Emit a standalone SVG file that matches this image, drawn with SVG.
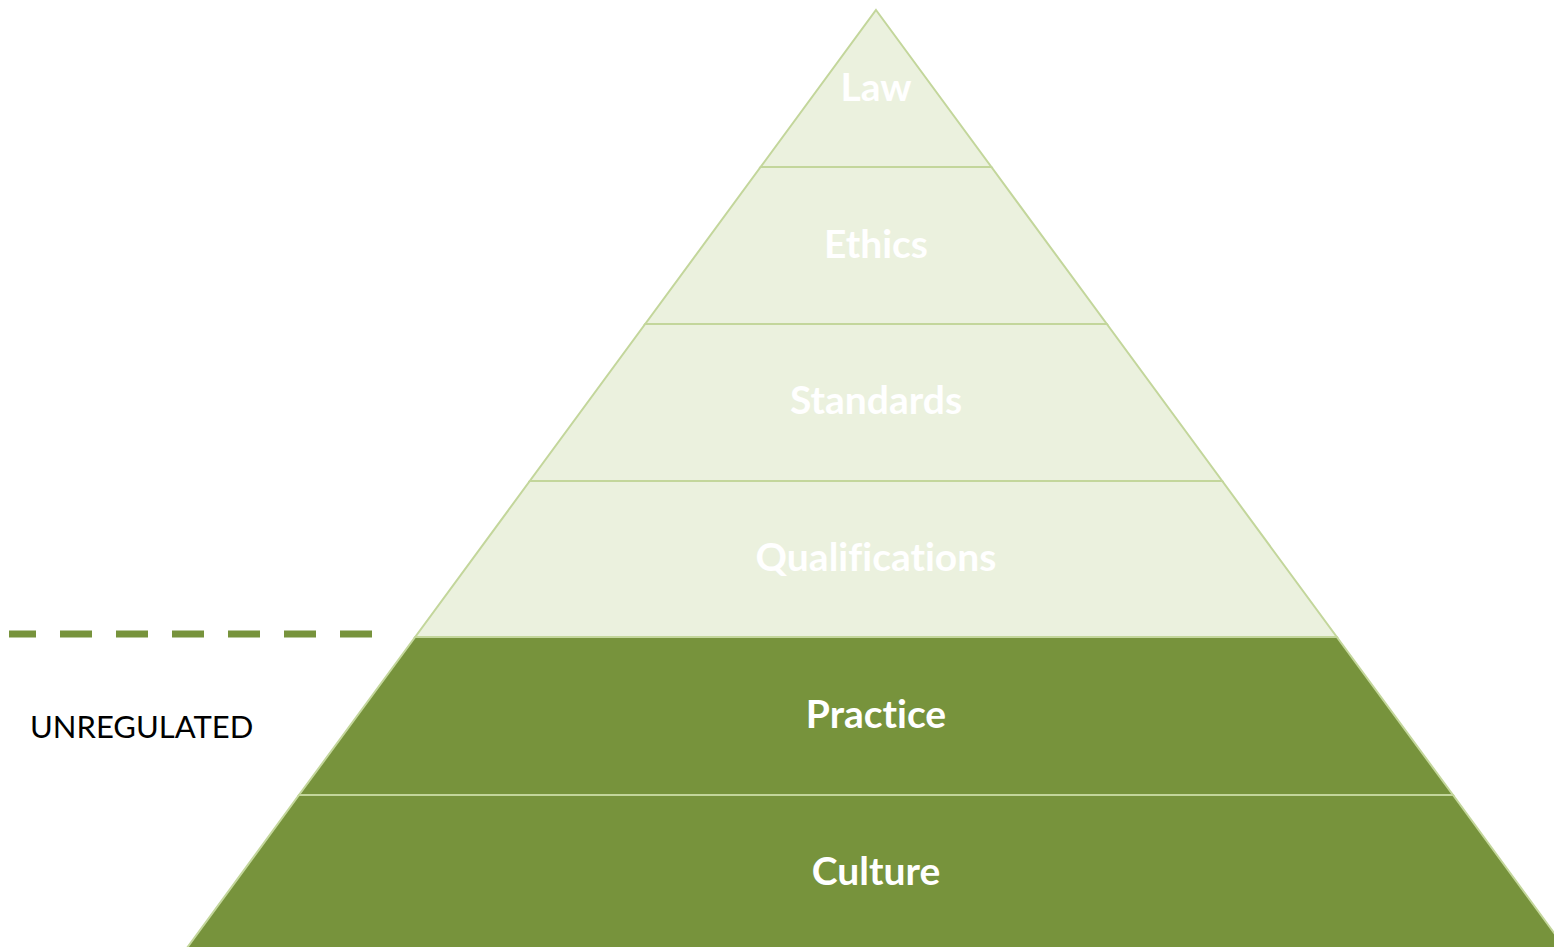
<svg xmlns="http://www.w3.org/2000/svg" width="1554" height="947" viewBox="0 0 1554 947">
<style>
.light{fill:#EBF1DE;stroke:#C3D69B;stroke-width:2}
.dark{fill:#77933C;stroke:#C3D69B;stroke-width:2}
.lbl{font-family:Lato,"Open Sans",sans-serif;font-weight:bold;font-size:39px;fill:#FFFFFF;text-anchor:middle;font-variant-ligatures:none}
.side{font-family:Lato,"Open Sans",sans-serif;font-size:31px;fill:#000000}
</style>
<rect width="1554" height="947" fill="#FFFFFF"/>
<g id="law"><polygon class="light" points="876,10 991.4,167 760.6,167"/><text class="lbl" x="876" y="101">Law</text></g>
<g id="ethics"><polygon class="light" points="760.6,167 991.4,167 1106.8,324 645.2,324"/><text class="lbl" x="876" y="258">Ethics</text></g>
<g id="standards"><polygon class="light" points="645.2,324 1106.8,324 1222.2,481 529.8,481"/><text class="lbl" x="876" y="414">Standards</text></g>
<g id="qualifications"><polygon class="light" points="529.8,481 1222.2,481 1336.8,637 415.2,637"/><text class="lbl" x="876" y="571">Qualifications</text></g>
<g id="practice"><polygon class="dark" points="415.2,637 1336.8,637 1453,795 299,795"/><text class="lbl" x="876" y="728">Practice</text></g>
<g id="culture"><polygon class="dark" points="299,795 1453,795 1568,952 184,952"/><text class="lbl" x="876" y="885">Culture</text></g>
<g id="connectors"><line x1="9" y1="634" x2="372" y2="634" stroke="#77933C" stroke-width="7" stroke-dasharray="32 24" stroke-dashoffset="5"/></g>
<g id="unregulated"><text class="side" x="30" y="738">UNREGULATED</text></g>
</svg>
